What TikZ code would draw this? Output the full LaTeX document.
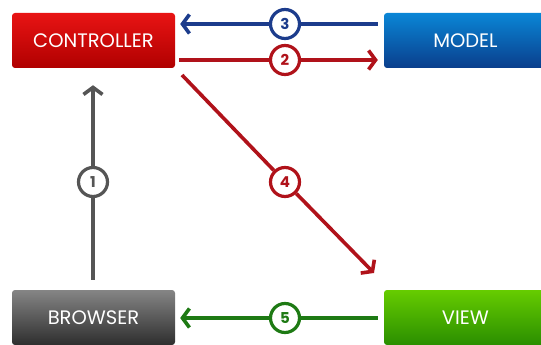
\documentclass[tikz,border=0pt]{standalone}
\usepackage{fontspec}
\setmainfont{Poppins}
\usetikzlibrary{positioning,arrows.meta}

\definecolor{ctrltop}{HTML}{E81414}
\definecolor{ctrlbot}{HTML}{B00000}
\definecolor{modtop}{HTML}{0A86D6}
\definecolor{modbot}{HTML}{0A3E8C}
\definecolor{brwtop}{HTML}{858585}
\definecolor{brwbot}{HTML}{2E2E2E}
\definecolor{viwtop}{HTML}{66CC00}
\definecolor{viwbot}{HTML}{2A8E00}
\definecolor{grayline}{HTML}{555555}
\definecolor{redline}{HTML}{B0121A}
\definecolor{blueline}{HTML}{1C3C8C}
\definecolor{greenline}{HTML}{1E7A14}

\begin{document}
\begin{tikzpicture}
            [x=1pt,y=-1pt,
             box/.style={rounded corners=3pt, minimum width=163pt, minimum height=55pt, inner sep=0pt, text=white, font=\fontsize{19.5}{19.5}\selectfont},
             num/.style={circle, draw, fill=white, line width=3.2pt, minimum size=29pt, inner sep=0pt, font=\bfseries\fontsize{15}{15}\selectfont},
             wire/.style={line width=3.6pt},
             flow/.style={line width=3.6pt, -{Straight Barb[length=7pt,width=19pt]}}]

            \useasboundingbox (0,0) rectangle (541,345);

            \node[box, top color=ctrltop, bottom color=ctrlbot] (co) at (93.5,40.5) {CONTROLLER};
            \node[box, top color=modtop, bottom color=modbot] (mo) at (465.5,40.5) {MODEL};
            \node[box, top color=brwtop, bottom color=brwbot] (br) at (93.5,317.5) {BROWSER};
            \node[box, top color=viwtop, bottom color=viwbot] (vi) at (465.5,317.5) {VIEW};

            \node[num, draw=grayline, text=grayline] (n1) at (93,182) {1};
            \node[num, draw=redline, text=redline] (n2) at (285,60) {2};
            \node[num, draw=blueline, text=blueline] (n3) at (285,24) {3};
            \node[num, draw=redline, text=redline] (n4) at (285,182) {4};
            \node[num, draw=greenline, text=greenline] (n5) at (285,318) {5};

            \coordinate (s4) at (182,75);
            \coordinate (e4) at (374,273);

            % 1
            \draw[wire, grayline, shorten <=10pt] (n1 |- br.north) -- (n1);
            \draw[flow, grayline, shorten >=17pt] (n1) -- (n1 |- co.south);
            % 2
            \draw[wire, redline, shorten <=4pt] (co.east |- n2) -- (n2);
            \draw[flow, redline, shorten >=6pt] (n2) -- (mo.west |- n2);
            % 3
            \draw[wire, blueline, shorten <=6pt] (mo.west |- n3) -- (n3);
            \draw[flow, blueline, shorten >=5pt] (n3) -- (co.east |- n3);
            % 4
            \draw[wire, redline] (s4) -- (n4);
            \draw[flow, redline] (n4) -- (e4);
            % 5
            \draw[wire, greenline, shorten <=6pt] (vi.west |- n5) -- (n5);
            \draw[flow, greenline, shorten >=5pt] (n5) -- (br.east |- n5);
        \end{tikzpicture}
\end{document}
